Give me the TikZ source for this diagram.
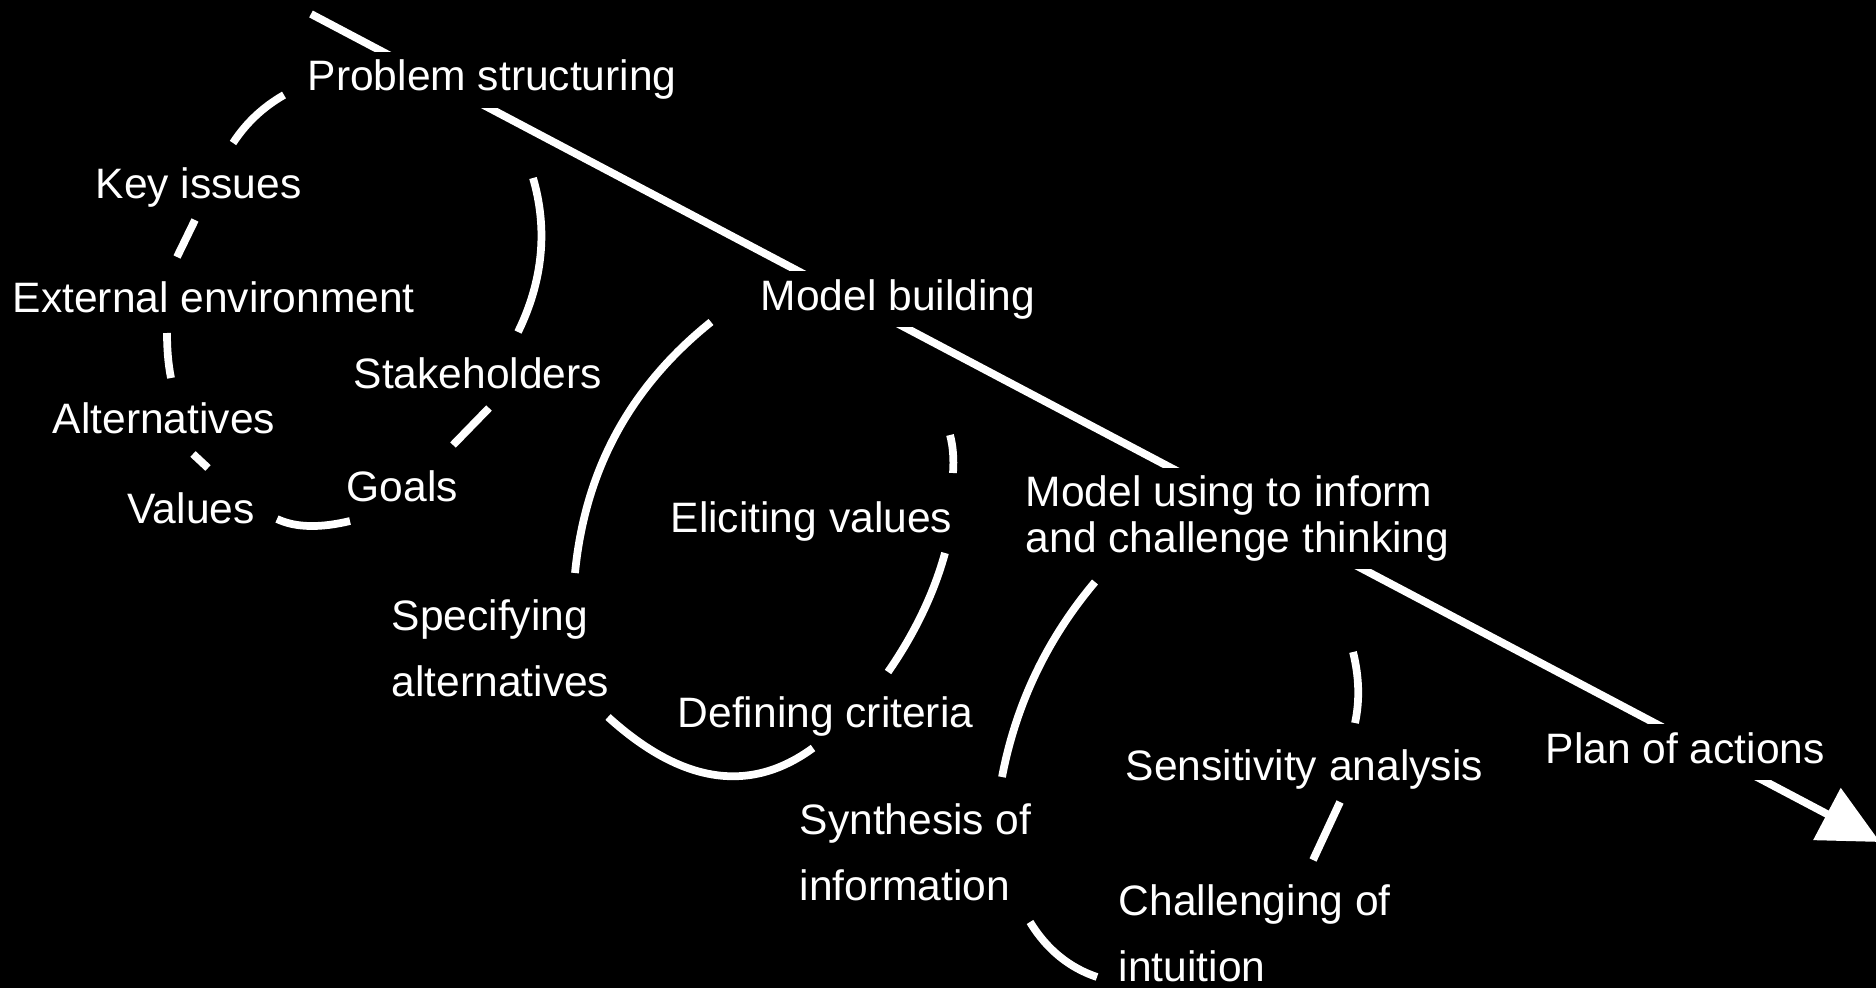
\documentclass[tikz,border=0pt]{standalone}
\usepackage{fontspec}
\setmainfont{Liberation Sans}
\usetikzlibrary{arrows.meta}

\newcommand{\varlw}{2.2pt}
\definecolor{mybg}{RGB}{0,0,0}
\definecolor{myfg}{RGB}{255,255,255}

\begin{document}
\begin{tikzpicture}[x=0.01cm, y=-0.01cm,
	caption/.style={font=\fontsize{12.1}{18.5}\selectfont, text=myfg, anchor=base west, inner sep=0pt, align=left},
	stage/.style={caption, fill=mybg, inner xsep=0.05cm, inner ysep=0.08cm},
	loopline/.style={draw=myfg, line width=\varlw}]

	% background
	\useasboundingbox (0,0) rectangle (1876,988);
	\fill [mybg] (0,0) rectangle (1876,988);
	\clip (0,0) rectangle (1876,988);

	% main line
	\coordinate (start) at (311,14);
	\coordinate (tip) at (1880,842);
	\draw [myfg, line width=\varlw, -{Triangle[width=0.57cm, length=0.6cm]}] (start) -- (tip);

	% stages (multi-line nodes sit on their last baseline)
	\node (ps) [stage] at (302,91) {Problem structuring};
	\node (mb) [stage] at (755,310) {Model building};
	\node (mu) [stage, font=\fontsize{12.1}{12.8}\selectfont] at (1020,552) {Model using to inform\\and challenge thinking};
	\node (pa) [stage, text depth=0.09cm] at (1540,763) {Plan of actions};

	% loops
	\draw [loopline] (284,95) .. controls (263,107) and (246,123) .. (233,143);
	\draw [loopline] (195,220) -- (177,257);
	\draw [loopline] (167,333) .. controls (167,348) and (168,363) .. (171,378);
	\draw [loopline] (193,454) -- (208,468);
	\draw [loopline] (277,519) .. controls (296,528) and (321,528) .. (350,521);
	\draw [loopline] (453,445) -- (489,408);
	\draw [loopline] (518,332) .. controls (543,281) and (548,229) .. (533,178);

	\draw [loopline] (711,322) .. controls (630,387) and (585,470) .. (575,573);
	\draw [loopline] (608,717) .. controls (682,784) and (750,794) .. (813,748);
	\draw [loopline] (945,553) .. controls (934,593) and (915,633) .. (888,672);
	\draw [loopline] (950,435) .. controls (953,446) and (954,459) .. (953,473);

	\draw [loopline] (1095,582) .. controls (1047,639) and (1016,704) .. (1002,777);
	\draw [loopline] (1030,922) .. controls (1047,950) and (1070,968) .. (1097,977);
	\draw [loopline] (1340,802) -- (1313,860);
	\draw [loopline] (1353,652) .. controls (1359,676) and (1360,700) .. (1355,723);

	% captions
	\node (ki) [caption] at (95,199) {Key issues};
	\node (ee) [caption] at (12,312) {External environment};
	\node (sh) [caption] at (353,388) {Stakeholders};
	\node (al) [caption] at (52,433) {Alternatives};
	\node (go) [caption] at (346,501) {Goals};
	\node (va) [caption] at (127,523) {Values};
	\node (ev) [caption] at (670,532) {Eliciting values};
	\node (sp) [caption] at (391,696) {Specifying\\alternatives};
	\node (dc) [caption] at (677,727) {Defining criteria};
	\node (sy) [caption] at (799,900) {Synthesis of\\information};
	\node (sa) [caption] at (1125,780) {Sensitivity analysis};
	\node (ch) [caption] at (1118,981) {Challenging of\\intuition};
\end{tikzpicture}
\end{document}
